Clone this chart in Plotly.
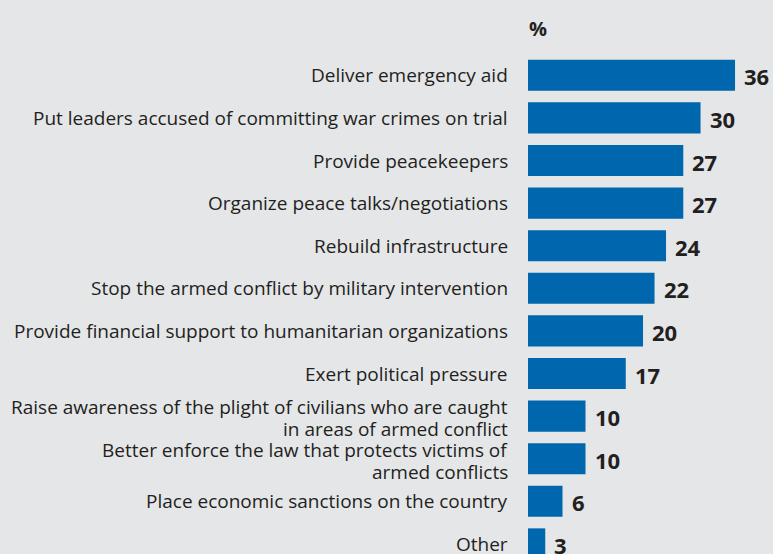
import plotly.graph_objects as go

categories = [
    "Deliver emergency aid",
    "Put leaders accused of committing war crimes on trial",
    "Provide peacekeepers",
    "Organize peace talks/negotiations",
    "Rebuild infrastructure",
    "Stop the armed conflict by military intervention",
    "Provide financial support to humanitarian organizations",
    "Exert political pressure",
    "Raise awareness of the plight of civilians who are caught<br>in areas of armed conflict",
    "Better enforce the law that protects victims of<br>armed conflicts",
    "Place economic sanctions on the country",
    "Other",
]
values = [36, 30, 27, 27, 24, 22, 20, 17, 10, 10, 6, 3]

BG = "#E5E6E8"
BAR = "#0066AD"
TXT = "#231F20"
FONT = "Open Sans"
LINE_GAP = 22  # px between wrapped label lines

fig = go.Figure(
    go.Bar(
        x=values,
        y=categories,
        orientation="h",
        marker=dict(color=BAR, line=dict(width=0)),
        width=0.73,
        hoverinfo="skip",
    )
)

for c, v in zip(categories, values):
    fig.add_annotation(
        x=v, y=c, xref="x", yref="y", text=f"<b>{v}</b>", showarrow=False,
        xanchor="left", yanchor="middle", xshift=7, yshift=-1,
        font=dict(family=FONT, size=22, color=TXT),
    )
    lines = c.split("<br>")
    n = len(lines)
    for k, line in enumerate(lines):
        shift = ((n - 1) / 2 - k) * LINE_GAP - (2 if n > 1 else 0)
        fig.add_annotation(
            x=0, y=c, xref="x", yref="y", text=line, showarrow=False,
            xanchor="right", yanchor="middle", align="right",
            xshift=-18, yshift=shift,
            font=dict(family=FONT, size=19, color=TXT),
        )

fig.add_annotation(
    x=0, y=1, xref="x", yref="paper", text="<b>%</b>", showarrow=False,
    xanchor="left", yanchor="bottom", xshift=-1, yshift=-4,
    font=dict(family=FONT, size=20, color=TXT),
)

fig.update_layout(
    width=773, height=554,
    paper_bgcolor=BG, plot_bgcolor=BG,
    margin=dict(l=528, r=0, t=40, b=0),
    showlegend=False,
    font=dict(family=FONT, size=19, color=TXT),
    xaxis=dict(range=[0, 42.6], visible=False, fixedrange=True),
    yaxis=dict(
        categoryorder="array", categoryarray=categories,
        range=[11.237, -0.829],
        showgrid=False, zeroline=False, showline=False,
        ticks="", showticklabels=False, fixedrange=True,
    ),
)

fig.write_html(
    "out.html",
    config={"displayModeBar": False, "staticPlot": True},
    post_script="document.body.style.margin='0';document.body.style.background='#E5E6E8';",
)
